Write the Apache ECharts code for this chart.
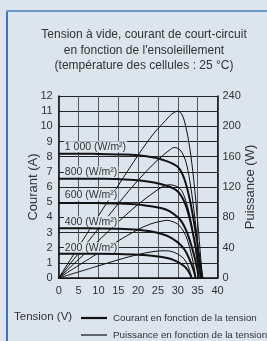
<!DOCTYPE html>
<html>
<head>
<meta charset="utf-8">
<style>
  html, body { margin: 0; padding: 0; background: #dce4ee; }
  #chart { width: 267px; height: 341px; }
</style>
<script src="https://cdn.jsdelivr.net/npm/echarts@6/dist/echarts.min.js"></script>
</head>
<body>
<div id="chart"></div>
<script>
// irradiance levels (labels)
var levels = ['1 000 (W/m²)', '800 (W/m²)', '600 (W/m²)', '400 (W/m²)', '200 (W/m²)'];
// where each label sits [V, A]
var labelAt = [[1.3, 8.66], [1.3, 7.0], [1.3, 5.47], [1.3, 3.71], [1.3, 2.0]];

// current vs voltage [V, A]
var courant1000 = [[0, 8.2], [5, 8.2], [10, 8.18], [15, 8.15], [20, 8.1], [24, 7.95], [27, 7.72], [29, 7.5], [30, 7.33], [31, 6.95], [32, 6.25], [33, 5.2], [34, 3.8], [35, 2.15], [35.8, 0.7], [36.2, 0]];
var courant800 = [[0, 6.55], [5, 6.55], [10, 6.54], [15, 6.52], [20, 6.45], [24, 6.3], [27, 6.1], [29, 5.9], [30, 5.7], [31, 5.35], [32, 4.8], [33, 3.9], [34, 2.7], [35, 1.3], [35.8, 0]];
var courant600 = [[0, 4.95], [5, 4.95], [10, 4.94], [15, 4.92], [20, 4.85], [24, 4.7], [26, 4.6], [28, 4.4], [30, 4.0], [31, 3.7], [32, 3.2], [33, 2.5], [34, 1.6], [34.8, 0.7], [35.3, 0]];
var courant400 = [[0, 3.28], [5, 3.28], [10, 3.27], [15, 3.25], [20, 3.18], [23, 3.08], [26, 2.9], [28, 2.7], [30, 2.35], [31, 2.1], [32, 1.75], [33, 1.2], [34, 0.5], [34.5, 0]];
var courant200 = [[0, 1.6], [5, 1.6], [10, 1.6], [15, 1.58], [20, 1.53], [24, 1.45], [27, 1.33], [29, 1.18], [31, 0.9], [32, 0.68], [33, 0.3], [33.5, 0]];

// power vs voltage [V, W]
var puissance1000 = [[0, 0], [10, 82], [15, 122], [20, 162], [24, 191], [27, 208], [28, 214], [29, 218], [30, 220], [31, 216], [32, 200], [33, 172], [34, 130], [35, 75], [35.8, 25], [36.2, 0]];
var puissance800 = [[0, 0], [10, 65], [15, 98], [20, 129], [24, 151], [27, 165], [28, 169], [29, 172], [30, 171], [31, 166], [32, 154], [33, 129], [34, 92], [35, 46], [35.8, 0]];
var puissance600 = [[0, 0], [10, 49], [15, 74], [20, 97], [24, 113], [26, 120], [27, 122], [28, 123], [29, 122], [30, 120], [31, 115], [32, 102], [33, 83], [34, 54], [34.8, 24], [35.3, 0]];
var puissance400 = [[0, 0], [10, 33], [15, 49], [20, 64], [23, 71], [25, 74], [26, 75], [27, 76], [28, 75.5], [30, 71], [31, 65], [32, 56], [33, 40], [34, 17], [34.5, 0]];
var puissance200 = [[0, 0], [10, 16], [15, 24], [20, 31], [24, 35], [26, 35.8], [27, 35.9], [29, 34], [31, 28], [32, 22], [33, 10], [33.5, 0]];

var courants = [courant1000, courant800, courant600, courant400, courant200];
var puissances = [puissance1000, puissance800, puissance600, puissance400, puissance200];

var bg = '#dce4ee';
var txt = '#333';
var sans = 'Liberation Sans, Arial, sans-serif';

var chart = echarts.init(document.getElementById('chart'));

var series = [];
courants.forEach(function (d, i) {
  series.push({
    name: 'Courant ' + levels[i],
    type: 'line',
    data: d,
    smooth: 0.35,
    symbol: 'none',
    z: 5,
    lineStyle: { color: '#111', width: 2 },
    markPoint: {
      symbol: 'rect',
      symbolSize: 0,
      data: [{ coord: labelAt[i] }],
      label: {
        show: true,
        position: 'right',
        distance: 0,
        formatter: levels[i],
        color: txt,
        fontSize: 10.5,
        fontFamily: sans,
        backgroundColor: bg,
        padding: [0, 1]
      }
    }
  });
});
puissances.forEach(function (d, i) {
  series.push({
    name: 'Puissance ' + levels[i],
    type: 'line',
    yAxisIndex: 1,
    data: d,
    smooth: 0.35,
    symbol: 'none',
    z: 4,
    lineStyle: { color: '#111', width: 1 }
  });
});

var option = {
  backgroundColor: bg,
  animation: false,
  title: {
    text: 'Tension à vide, courant de court-circuit\nen fonction de l\'ensoleillement\n(température des cellules : 25 °C)',
    left: 139,
    top: 22,
    textAlign: 'center',
    textStyle: {
      fontFamily: sans,
      fontSize: 12,
      fontWeight: 'normal',
      lineHeight: 15.5,
      color: txt
    }
  },
  grid: { left: 58.7, right: 49.5, top: 96, bottom: 63 },
  xAxis: {
    type: 'value',
    min: 0,
    max: 40,
    interval: 5,
    axisLine: { lineStyle: { color: '#111', width: 1.5 } },
    axisTick: { show: false },
    axisLabel: { color: txt, fontSize: 11, fontFamily: sans, margin: 7 },
    splitLine: { show: true, lineStyle: { color: '#555', width: 1 } }
  },
  yAxis: [{
    type: 'value',
    min: 0,
    max: 12,
    interval: 1,
    name: 'Courant (A)',
    nameLocation: 'middle',
    nameGap: 19,
    nameMoveOverlap: false,
    nameTextStyle: { color: txt, fontSize: 13, fontFamily: sans },
    axisLine: { show: true, lineStyle: { color: '#111', width: 1.5 } },
    axisTick: { show: false },
    axisLabel: { color: txt, fontSize: 11, fontFamily: sans, margin: 6 },
    splitLine: { show: true, lineStyle: { color: '#222', width: 1 } }
  }, {
    type: 'value',
    min: 0,
    max: 240,
    interval: 40,
    position: 'right',
    name: 'Puissance (W)',
    nameLocation: 'middle',
    nameGap: 26,
    nameMoveOverlap: false,
    nameTextStyle: { color: txt, fontSize: 13, fontFamily: sans },
    axisLine: { show: true, lineStyle: { color: '#111', width: 1.5 } },
    axisTick: { show: false },
    axisLabel: { color: txt, fontSize: 11, fontFamily: sans, margin: 5 },
    splitLine: { show: false }
  }],
  graphic: [
    // box border
    { type: 'rect', shape: { x: 6, y: 10, width: 2, height: 331 }, style: { fill: '#3d77b2' } },
    { type: 'rect', shape: { x: 6, y: 10, width: 261, height: 2 }, style: { fill: '#7199c5' } },
    // legend
    { type: 'text', left: 14, top: 311, style: { text: 'Tension (V)', fill: txt, fontSize: 11.5, fontFamily: sans } },
    { type: 'line', shape: { x1: 81, y1: 318, x2: 107, y2: 318 }, style: { stroke: '#111', lineWidth: 2.2 } },
    { type: 'text', left: 113, top: 313, style: { text: 'Courant en fonction de la tension', fill: txt, fontSize: 9.8, fontFamily: sans } },
    { type: 'line', shape: { x1: 81, y1: 335, x2: 107, y2: 335 }, style: { stroke: '#111', lineWidth: 1.2 } },
    { type: 'text', left: 113, top: 330, style: { text: 'Puissance en fonction de la tension', fill: txt, fontSize: 9.8, fontFamily: sans } }
  ],
  series: series
};

chart.setOption(option);
</script>
</body>
</html>
